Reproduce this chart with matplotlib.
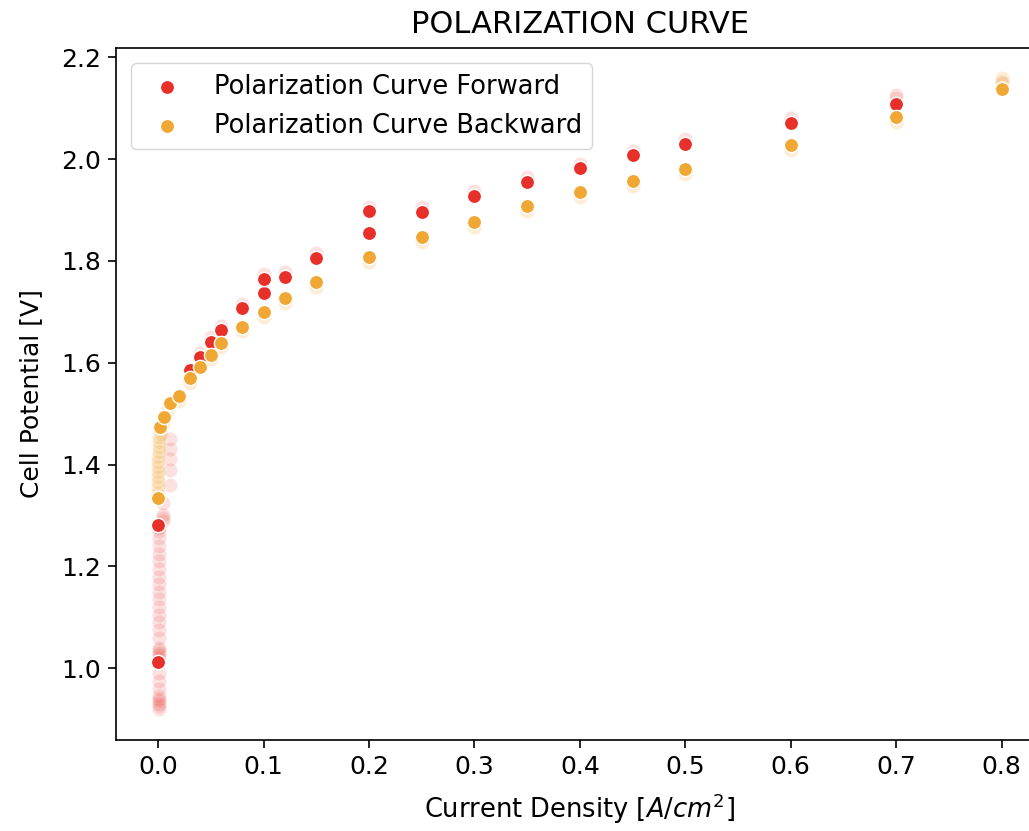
import numpy as np
import matplotlib.pyplot as plt

# forward sweep - settled readings
fwd_j = [0.0, 0.0, 0.03, 0.04, 0.05, 0.06, 0.08, 0.1, 0.1,
         0.12, 0.15, 0.2, 0.2, 0.25, 0.3, 0.35, 0.4, 0.45, 0.5, 0.6, 0.7, 0.8]
fwd_v = [1.013, 1.282, 1.585, 1.612, 1.64, 1.665, 1.708, 1.737, 1.765,
         1.768, 1.806, 1.855, 1.897, 1.895, 1.927, 1.955, 1.982, 2.007, 2.03, 2.07, 2.108, 2.14]

# forward sweep - transient readings
fwd_j_t = [0.001, 0.001, 0.001, 0.001, 0.001, 0.001, 0.001, 0.001, 0.001, 0.001,
           0.001, 0.001, 0.001, 0.001, 0.001, 0.001, 0.001, 0.001, 0.001, 0.001,
           0.001, 0.001, 0.001, 0.001, 0.001, 0.001, 0.001, 0.001, 0.001, 0.001,
           0.005, 0.005, 0.005, 0.005, 0.011, 0.011, 0.011, 0.011, 0.011,
           0.04, 0.05, 0.06, 0.08, 0.1, 0.12, 0.15, 0.2, 0.25, 0.3,
           0.35, 0.4, 0.45, 0.5, 0.6, 0.7, 0.7, 0.8]
fwd_v_t = [0.92, 0.925, 0.93, 0.935, 0.94, 0.945, 0.96, 0.975, 0.99, 1.02,
           1.025, 1.03, 1.035, 1.04, 1.06, 1.075, 1.09, 1.105, 1.12, 1.135,
           1.15, 1.165, 1.18, 1.195, 1.21, 1.225, 1.24, 1.255, 1.27, 1.275,
           1.29, 1.295, 1.30, 1.325, 1.36, 1.39, 1.41, 1.43, 1.45,
           1.62, 1.65, 1.672, 1.716, 1.775, 1.778, 1.815, 1.905, 1.905, 1.937,
           1.965, 1.99, 2.016, 2.04, 2.08, 2.12, 2.125, 2.152]

# backward sweep - settled readings
bwd_j = [0.0, 0.002, 0.006, 0.011, 0.02, 0.03, 0.04, 0.05, 0.06, 0.08, 0.1, 0.12,
         0.15, 0.2, 0.25, 0.3, 0.35, 0.4, 0.45, 0.5, 0.6, 0.7, 0.8]
bwd_v = [1.335, 1.473, 1.494, 1.52, 1.535, 1.569, 1.592, 1.616, 1.639, 1.671, 1.70, 1.727,
         1.759, 1.808, 1.847, 1.877, 1.907, 1.935, 1.957, 1.98, 2.027, 2.082, 2.137]

# backward sweep - transient readings
bwd_j_t = [0.0, 0.0, 0.0, 0.0, 0.0, 0.0, 0.0, 0.0, 0.001, 0.001, 0.001, 0.001,
           0.003, 0.005, 0.008, 0.02, 0.03, 0.05, 0.06, 0.08, 0.1, 0.12, 0.15,
           0.2, 0.25, 0.3, 0.35, 0.4, 0.45, 0.5, 0.6, 0.7, 0.8, 0.8]
bwd_v_t = [1.345, 1.355, 1.365, 1.375, 1.385, 1.395, 1.405, 1.415, 1.425, 1.435, 1.445, 1.455,
           1.46, 1.48, 1.505, 1.525, 1.56, 1.607, 1.63, 1.662, 1.69, 1.717,
           1.749, 1.798, 1.837, 1.867, 1.897, 1.925, 1.947, 1.97, 2.017, 2.072, 2.15, 2.16]

red = "#E8302A"
orange = "#F0A734"

fig = plt.figure(figsize=(10.29, 8.31), dpi=100)
ax = fig.add_axes([0.1127, 0.1095, 0.9017, 0.8327])

ax.scatter(fwd_j_t, fwd_v_t, s=105, color=red, alpha=0.14, edgecolor="white", linewidth=1)
ax.scatter(fwd_j, fwd_v, s=105, color=red, edgecolor="white", linewidth=1,
           label="Polarization Curve Forward")
ax.scatter(bwd_j_t, bwd_v_t, s=105, color=orange, alpha=0.2, edgecolor="white", linewidth=1)
ax.scatter(bwd_j, bwd_v, s=105, color=orange, edgecolor="white", linewidth=1,
           label="Polarization Curve Backward")

ax.set_xlim(-0.04, 0.84)
ax.set_ylim(0.859, 2.218)
ax.set_xticks(np.arange(0, 0.81, 0.1))
ax.set_yticks([1.0, 1.2, 1.4, 1.6, 1.8, 2.0, 2.2])
ax.tick_params(labelsize=18, length=6, width=1.2, pad=5)
for sp in ax.spines.values():
    sp.set_linewidth(1.2)

ax.set_title("POLARIZATION CURVE", fontsize=22, pad=11)
ax.set_xlabel("Current Density [$A/cm^2$]", fontsize=18.5, labelpad=9)
ax.set_ylabel("Cell Potential [V]", fontsize=18, labelpad=13)
ax.legend(loc="upper left", fontsize=18.5, markerscale=1.0, borderaxespad=0.6)

fig.savefig("out.png", dpi=100)
